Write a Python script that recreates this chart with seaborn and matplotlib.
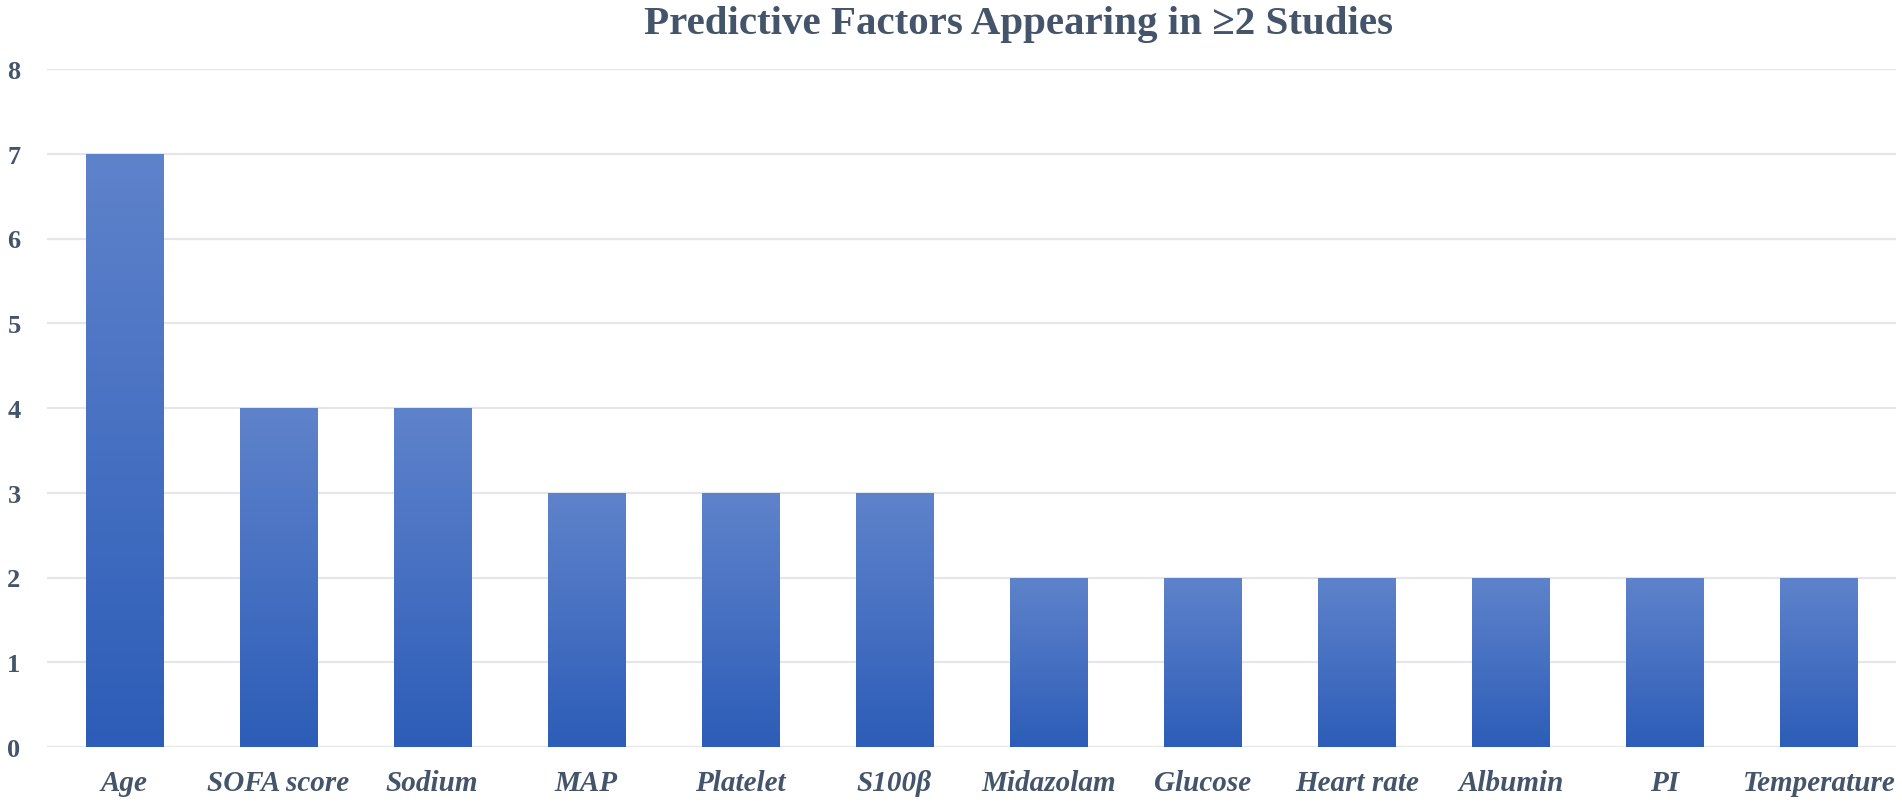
import numpy as np
import pandas as pd
import seaborn as sns
import matplotlib.pyplot as plt
from matplotlib.colors import LinearSegmentedColormap

factors = ['Age', 'SOFA score', 'Sodium', 'MAP', 'Platelet', 'S100β',
           'Midazolam', 'Glucose', 'Heart rate', 'Albumin', 'PI', 'Temperature']
counts = [7, 4, 4, 3, 3, 3, 2, 2, 2, 2, 2, 2]
y_ticks = [0, 1, 2, 3, 4, 5, 6, 7, 8]

text_color = '#44546A'
grid_color = '#E4E6EA'
bar_top = '#5F83CB'
bar_bottom = '#2D5DB8'

sns.set_theme(style='white')
plt.rcParams['font.family'] = ['Liberation Serif', 'DejaVu Serif']

df = pd.DataFrame({'factor': factors, 'count': counts})

fig = plt.figure(figsize=(19.02, 8.04), dpi=100)
ax = fig.add_axes([47 / 1902, 56 / 804, (1896 - 47) / 1902, (748 - 70) / 804])

sns.barplot(data=df, x='factor', y='count', color=bar_bottom, width=0.5,
            saturation=1, ax=ax, zorder=2)

# vertical gradient in each bar, light at the top and dark at the bottom
cmap = LinearSegmentedColormap.from_list('bar_grad', [bar_bottom, bar_top])
grad = np.linspace(0, 1, 256).reshape(-1, 1)
for p in ax.patches:
    x0, y0 = p.get_x(), p.get_y()
    w, h = p.get_width(), p.get_height()
    im = ax.imshow(grad, extent=[x0, x0 + w, y0, y0 + h], origin='lower',
                   aspect='auto', cmap=cmap, zorder=3)
    im.set_clip_path(p)
    p.set_facecolor('none')
    p.set_edgecolor('none')

ax.set_xlim(-0.5, len(factors) - 0.5)
ax.set_ylim(0, 8)
ax.set_yticks(y_ticks)
ax.set_yticklabels([str(t) for t in y_ticks])
ax.yaxis.grid(True, color=grid_color, linewidth=1.6, zorder=0)
ax.xaxis.grid(False)
ax.set_axisbelow(True)
for s in ax.spines.values():
    s.set_visible(False)

ax.set_xlabel('')
ax.set_ylabel('')
ax.tick_params(axis='y', length=0, pad=19, labelsize=19, labelcolor=text_color)
ax.tick_params(axis='x', length=0, pad=16, labelsize=21, labelcolor=text_color)
for lab in ax.get_yticklabels():
    lab.set_fontweight('bold')
for lab in ax.get_xticklabels():
    lab.set_fontweight('bold')
    lab.set_fontstyle('italic')

fig.text(1018 / 1902, 1 - 34 / 804, 'Predictive Factors Appearing in ≥2 Studies',
         ha='center', va='baseline', fontsize=29.5, fontweight='bold',
         color=text_color)

fig.savefig('out.png', dpi=100)
